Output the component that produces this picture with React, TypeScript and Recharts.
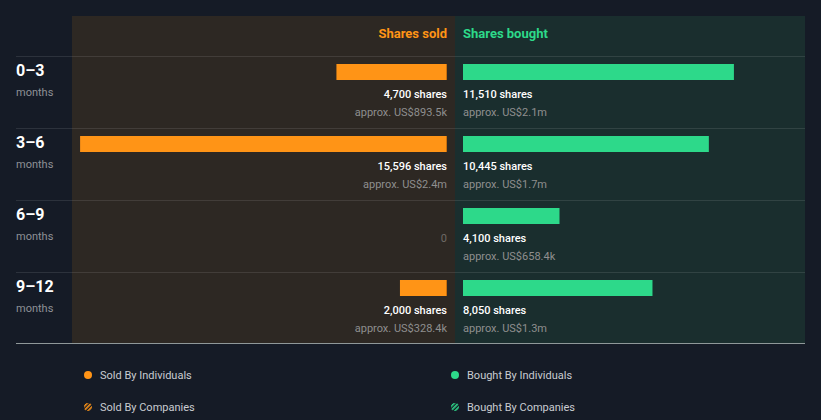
import React from "react"
import { BarChart, Bar, XAxis, YAxis, LabelList } from "recharts"

const periods = ["0–3", "3–6", "6–9", "9–12"]
const soldShares = [4700, 15596, 0, 2000]
const soldValue = ["US$893.5k", "US$2.4m", "", "US$328.4k"]
const boughtShares = [11510, 10445, 4100, 8050]
const boughtValue = ["US$2.1m", "US$1.7m", "US$658.4k", "US$1.3m"]

// same px-per-share on both sides
const SOLD_MAX = 15940
const BOUGHT_MAX = 14530

const ORANGE = "#ff9416"
const GREEN = "#2dd98a"
const BG = "#151b26"

const fmt = (n: number) => n.toLocaleString("en-US")

const data = periods.map((p, i) => ({
  period: p,
  sold: soldShares[i],
  soldText: soldShares[i] === 0 ? "0" : `${fmt(soldShares[i])} shares`,
  soldApprox: soldValue[i] ? `approx. ${soldValue[i]}` : "",
  bought: boughtShares[i],
  boughtText: `${fmt(boughtShares[i])} shares`,
  boughtApprox: `approx. ${boughtValue[i]}`,
}))

const rectOf = (p: any) => {
  const vb = p.viewBox && p.viewBox.width !== undefined ? p.viewBox : p
  const x = Number(vb.x)
  const w = Number(vb.width)
  const y = Number(vb.y)
  const h = Number(vb.height)
  return { left: Math.min(x, x + w), right: Math.max(x, x + w), y, h }
}

const makeLabel = (side: "sold" | "bought", line: 0 | 1) => (p: any) => {
  const r = rectOf(p)
  const val = String(p.value ?? "")
  if (!val) return null
  const isZero = val === "0"
  return (
    <text
      x={side === "sold" ? r.right : r.left}
      y={r.y + r.h + (line === 0 ? 18 : 36)}
      textAnchor={side === "sold" ? "end" : "start"}
      fontSize={11}
      fontWeight={line === 0 && !isZero ? 500 : 400}
      fill={isZero ? "#6d6a66" : line === 0 ? "#ffffff" : "#8f8f8f"}
    >
      {val}
    </text>
  )
}

const SoldShape = (p: any) => {
  const x = Number(p.x), w = Number(p.width)
  const left = Math.min(x, x + w)
  const width = Math.abs(w)
  if (!width) return null
  return (
    <g>
      <rect x={left} y={p.y} width={width} height={p.height} fill={ORANGE} />
      <rect x={left + width - 1} y={p.y} width={1} height={p.height} fill="#c8700e" />
    </g>
  )
}

const PeriodTick = ({ y, payload }: any) => (
  <g>
    <text x={16} y={y + 4} fontSize={16} fontWeight={700} fill="#ffffff">
      {payload.value}
    </text>
    <text x={16} y={y + 24} fontSize={11} fill="#8e9196">
      months
    </text>
  </g>
)

const rowLines = [56, 128, 200, 272]

const Hatch = ({ color, id }: { color: string; id: string }) => (
  <svg width={10} height={10} style={{ position: "absolute", left: -5, top: -5 }}>
    <defs>
      <pattern id={id} width={3} height={3} patternUnits="userSpaceOnUse" patternTransform="rotate(45)">
        <rect width={1.6} height={3} fill={color} />
      </pattern>
    </defs>
    <circle cx={5} cy={5} r={4} fill={`url(#${id})`} />
  </svg>
)

const LegendItem = ({ x, y, color, label, hatch }: any) => (
  <div style={{ position: "absolute", left: x, top: y }}>
    {hatch ? (
      <Hatch color={color} id={`h-${color.slice(1)}`} />
    ) : (
      <div
        style={{
          position: "absolute",
          left: -4,
          top: -4,
          width: 8,
          height: 8,
          borderRadius: 4,
          background: color,
        }}
      />
    )}
    <div
      style={{
        position: "absolute",
        left: 12,
        top: -7,
        fontSize: 11,
        lineHeight: "16px",
        color: "#c9ccd1",
        whiteSpace: "nowrap",
      }}
    >
      {label}
    </div>
  </div>
)

export default function App() {
  return (
    <div
      style={{
        position: "absolute",
        left: 0,
        top: 0,
        width: 821,
        height: 420,
        background: BG,
        fontFamily: "Roboto, sans-serif",
        overflow: "hidden",
      }}
    >
      <div style={{ position: "absolute", left: 72, top: 16, width: 383, height: 327, background: "#2d2823" }} />
      <div style={{ position: "absolute", left: 455, top: 16, width: 350, height: 327, background: "#1a2e2e" }} />
      {rowLines.map((y) => (
        <div
          key={y}
          style={{ position: "absolute", left: 16, top: y, width: 789, height: 1, background: "rgba(255,255,255,0.1)" }}
        />
      ))}
      <div style={{ position: "absolute", left: 16, top: 343, width: 789, height: 1, background: "#8f9899" }} />

      <div
        style={{
          position: "absolute",
          right: 821 - 447,
          top: 26,
          fontSize: 13,
          fontWeight: 700,
          color: ORANGE,
          lineHeight: "16px",
        }}
      >
        Shares sold
      </div>
      <div
        style={{
          position: "absolute",
          left: 463,
          top: 26,
          fontSize: 13,
          fontWeight: 700,
          color: GREEN,
          lineHeight: "16px",
        }}
      >
        Shares bought
      </div>

      <div style={{ position: "absolute", left: 0, top: 36 }}>
        <BarChart width={455} height={308} data={data} layout="vertical" margin={{ top: 0, right: 8, left: 0, bottom: 20 }}>
          <XAxis type="number" domain={[0, SOLD_MAX]} reversed hide />
          <YAxis type="category" dataKey="period" width={72} axisLine={false} tickLine={false} tick={<PeriodTick />} />
          <Bar dataKey="sold" barSize={16} fill={ORANGE} shape={<SoldShape />} isAnimationActive={false}>
            <LabelList dataKey="soldText" content={makeLabel("sold", 0)} />
            <LabelList dataKey="soldApprox" content={makeLabel("sold", 1)} />
          </Bar>
        </BarChart>
      </div>

      <div style={{ position: "absolute", left: 455, top: 36 }}>
        <BarChart width={350} height={308} data={data} layout="vertical" margin={{ top: 0, right: 0, left: 8, bottom: 20 }}>
          <XAxis type="number" domain={[0, BOUGHT_MAX]} hide />
          <YAxis type="category" dataKey="period" hide />
          <Bar dataKey="bought" barSize={16} fill={GREEN} isAnimationActive={false}>
            <LabelList dataKey="boughtText" content={makeLabel("bought", 0)} />
            <LabelList dataKey="boughtApprox" content={makeLabel("bought", 1)} />
          </Bar>
        </BarChart>
      </div>

      <LegendItem x={88} y={375} color={ORANGE} label="Sold By Individuals" />
      <LegendItem x={455} y={375} color={GREEN} label="Bought By Individuals" />
      <LegendItem x={88} y={407} color={ORANGE} label="Sold By Companies" hatch />
      <LegendItem x={455} y={407} color={GREEN} label="Bought By Companies" hatch />
    </div>
  )
}
